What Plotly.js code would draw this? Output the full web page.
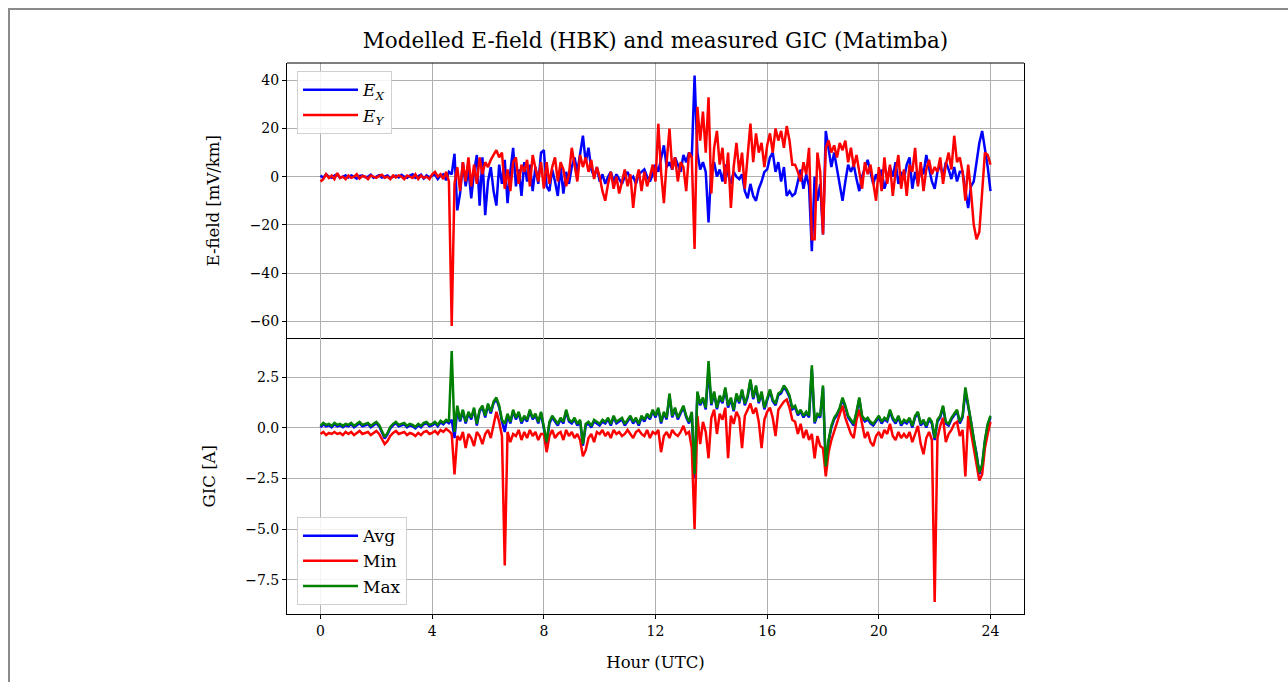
<!DOCTYPE html>
<html>
<head>
<meta charset="utf-8">
<script src="https://cdn.plot.ly/plotly-3.0.1.min.js"></script>
<style>
  html, body { margin: 0; padding: 0; background: #fff; }
  #wrap { position: relative; width: 1288px; height: 682px; }
  #chart { width: 1288px; height: 682px; }
  #frame { position: absolute; left: 8px; top: 8px; width: 1290px; height: 690px;
           border-top: 2px solid #8a8a8a; border-left: 2px solid #8a8a8a; pointer-events: none; }
</style>
</head>
<body>
<div id="wrap"><div id="chart"></div><div id="frame"></div></div>
<script>
// One row per hour, 10 samples per hour (every 6 minutes), last row = hour 24
const ex = [
  [0.5, -0.5, 1, 0, -0.5, 0.5, 1, -0.5, 0, 0.5],
  [-0.3, 0.5, 0, -0.8, 0.3, 0.5, -0.2, 0, 0.8, -0.5],
  [0, 0.6, -0.4, 0.2, 0.5, -0.6, 0, 0.4, -0.3, 0.8],
  [0, -0.5, 0.5, 1, -0.5, 0, 0.8, -0.8, 0.5, -0.3],
  [0.5, 1, -1, 0.5, 1, -1.5, 2, 1, 9.5, -14],
  [-7, 6, -4, 3, -9, 2, 9, -12, 8, -16],
  [-2, 4, -6, -12, 5, -3, 7, -11, 2, 12],
  [-4, 3, -8, 6, -2, 5, -6, 4, -3, 10],
  [11, -4, -6, 3, -2, -8, 4, -7, 2, -3],
  [4, 8, 2, 10, 17, 6, 12, 3, 0, 4],
  [-2, 1, -3, 0, 2, -2, 1, -1, -3, 0],
  [2, -1, 0, -3, 1, 2, 3, 0, -2, 1],
  [5, 2, 8, 13, 4, 6, 3, 8, 5, 2],
  [9, 6, 10, 8, 42, 10, 3, 6, 2, -19],
  [4, 6, 0, 3, -2, 5, 1, -3, 2, 0],
  [-1, 1, -6, -9, -3, -8, -10, -5, -2, 2],
  [3, 8, 10, 2, 6, -2, 4, -8, -6, -8],
  [-7, -2, 3, -5, 1, -4, -31, 0, -10, -3],
  [-24, 19, 12, 4, 10, 3, -4, -10, -2, 5],
  [2, 5, -1, -6, 0, 4, 7, 2, -3, 1],
  [-2, 3, -5, -1, 4, 0, 6, -3, 2, -1],
  [5, 8, -5, 2, -3, 4, 1, 9, 3, -2],
  [-5, 2, 5, 0, 6, 3, -1, 4, -2, 2],
  [2, -5, -13, -4, -2, 6, 14, 19, 12, 4],
  [-6]
];
const ey = [
  [-2, -1, 1, -0.5, 0.5, -1, 1.5, -0.5, 0, -1],
  [0.5, -0.5, 0, 1, -0.8, 0.3, 0, -1, 0.5, 0],
  [-0.5, 0.3, 0.8, -0.5, 0, -1, 0.5, -0.3, 0.5, 0],
  [-1, 0.5, 0, -0.5, 1, -1, 0.5, -0.5, 0, -1],
  [1, 2, 0, 1, -1, 2, -2, -62, -3, 4],
  [-6, 6, -2, 8, -4, 5, -3, 8, 1, 6],
  [4, 7, 9, 11, 8, 10, -5, 3, -6, 6],
  [8, -3, 5, 2, 7, -4, 9, 3, -2, 6],
  [-5, 6, -3, 4, 8, -2, 6, 3, -4, 1],
  [12, 5, -2, 9, 4, 8, 2, 7, -1, 4],
  [0, -6, -10, -3, 2, -5, 0, -7, -2, 3],
  [-4, 1, -13, -2, 3, -6, 2, -4, 0, 5],
  [-2, 22, 2, -11, 6, 20, 3, 8, -2, 6],
  [4, -6, 10, 8, -30, 29, 15, 27, 10, 33],
  [-7, 12, 19, 5, 12, -3, 10, -13, 4, 14],
  [2, 10, -5, 8, 22, 6, 18, 10, 14, 4],
  [13, 18, 10, 20, 15, 19, 12, 21, 15, 5],
  [5, 2, -2, 6, 1, 12, -26, -26, 10, 2],
  [-24, 12, 15, 10, 13, 8, 14, 11, 15, 6],
  [12, 4, 9, 2, -5, 6, 1, 5, -3, -10],
  [4, -6, 8, -3, 5, -8, 2, 9, -5, 3],
  [-8, 5, 2, 12, -4, 6, -6, 3, 7, 1],
  [4, 2, 8, -3, 5, 10, 3, 17, 6, 8],
  [2, -10, 5, -6, -20, -26, -23, -8, 10, 9],
  [5]
];
const gicAvg = [
  [0.03, 0.18, 0.08, 0.13, 0.03, 0.18, 0.08, 0.13, 0.03, 0.13],
  [0.08, 0.18, 0.03, 0.13, 0.23, 0.08, 0.13, 0.18, 0.03, 0.13],
  [0.23, 0.08, -0.22, -0.52, -0.32, -0.02, 0.13, 0.23, 0.08, 0.13],
  [0.18, 0.03, 0.13, 0.08, -0.02, 0.13, 0.03, 0.18, 0.23, 0.08],
  [0.13, 0.23, 0.08, 0.28, 0.18, 0.33, 0.23, 0.4, -0.5, 0.9],
  [0.32, 0.82, 0.22, 0.72, 0.42, 0.92, 0.12, 0.82, 1.02, 0.52],
  [1.12, 0.72, 1.22, 1.42, 1.02, 0.32, -0.2, 0.62, 0.22, 0.82],
  [0.42, 0.72, 0.22, 0.52, 0.32, 0.82, 0.42, 0.62, 0.22, 0.72],
  [0.02, -0.78, 0.22, 0.52, 0.32, 0.12, 0.42, 0.22, 0.82, 0.32],
  [0.22, 0.42, 0.12, 0.32, -0.88, 0.12, 0.22, 0.02, 0.32, 0.22],
  [0.12, 0.32, 0.22, 0.42, 0.12, 0.52, 0.22, 0.32, 0.42, 0.12],
  [0.32, 0.52, 0.22, 0.42, 0.12, 0.52, 0.32, 0.62, 0.42, 0.82],
  [0.52, 0.92, 0.22, 0.72, 0.42, 1.6, 0.52, 0.92, 0.42, 0.72],
  [1.02, 0.52, 0.22, 0.72, -2.5, 1.72, 1.12, 1.42, 0.92, 2.9],
  [1.12, 1.72, 0.92, 1.52, 1.22, 1.92, 1.0, 1.42, 0.82, 1.62],
  [1.22, 1.82, 1.12, 1.52, 2.32, 1.42, 2.02, 1.22, 1.72, 0.92],
  [1.42, 1.82, 1.32, 1.12, 1.62, 1.72, 2.02, 1.82, 1.52, 0.92],
  [1.02, 0.62, 0.82, 0.52, 0.72, 0.52, 2.9, 0.22, 0.62, 0.52],
  [2.0, -2.0, -0.68, 0.02, 0.42, 0.62, 0.92, 1.42, 1.02, 0.52],
  [0.32, 0.12, 0.72, 1.42, 0.52, 0.32, 0.42, 0.22, 0.12, 0.32],
  [0.52, 0.22, 0.42, 0.32, 0.82, 0.42, 0.22, 0.52, 0.12, 0.32],
  [0.22, 0.42, 0.02, 0.52, 0.72, 0.12, 0.32, 0.02, 0.42, 0.22],
  [-0.6, 0.32, 0.52, 1.02, 0.22, 0.12, 0.42, 0.62, 0.82, 0.22],
  [0.52, 1.8, 1.12, 0.32, -0.58, -1.28, -2.28, -1.88, -0.68, 0.12],
  [0.52]
];
const gicMin = [
  [-0.3, -0.2, -0.35, -0.25, -0.3, -0.2, -0.3, -0.25, -0.35, -0.2],
  [-0.3, -0.2, -0.35, -0.25, -0.15, -0.3, -0.25, -0.2, -0.35, -0.25],
  [-0.15, -0.3, -0.55, -0.8, -0.65, -0.4, -0.25, -0.15, -0.3, -0.25],
  [-0.2, -0.35, -0.25, -0.3, -0.4, -0.25, -0.35, -0.2, -0.15, -0.3],
  [-0.25, -0.15, -0.3, -0.1, -0.2, -0.05, -0.15, -0.3, -2.3, -0.4],
  [-0.6, -0.2, -1.0, -0.3, -0.5, -0.9, -0.2, -0.4, -0.8, -0.3],
  [-0.1, -0.5, 0.2, 0.8, 0.3, -0.4, -6.8, -0.2, -0.7, -0.3],
  [-0.4, -0.1, -0.6, -0.2, -0.5, -0.1, -0.4, -0.2, -0.6, -0.3],
  [-0.3, -1.2, -0.4, -0.1, -0.5, -0.3, -0.2, -0.6, -0.1, -0.4],
  [-0.2, -0.5, -0.3, -0.6, -1.4, -1.1, -0.5, -0.3, -0.7, -0.2],
  [-0.3, -0.1, -0.4, -0.2, -0.5, -0.1, -0.3, -0.2, -0.4, -0.3],
  [-0.1, -0.3, -0.5, -0.2, -0.1, -0.3, -0.4, -0.1, -0.5, -0.2],
  [-0.3, -0.1, -1.2, -0.4, -0.2, -0.5, -0.1, -0.3, -0.4, -0.2],
  [0.1, -0.3, -0.2, -1.0, -5.0, 0.6, -0.8, 0.3, -0.2, -1.5],
  [0.5, 0.9, -0.3, 0.7, 0.4, 1.0, -1.5, 0.6, 0.2, 0.8],
  [0.5, -1.0, 0.6, 0.9, 1.2, 0.7, 1.0, 0.3, -1.0, 0.4],
  [0.8, 1.0, 0.5, -0.4, 0.9, 1.1, 1.3, 1.4, 1.0, 0.4],
  [0.3, -0.3, 0.2, -0.5, -0.1, -0.6, -0.3, -1.5, -0.4, -0.9],
  [-1.0, -2.4, -1.2, -0.6, -0.2, 0.3, 0.6, 1.1, 0.5, 0.1],
  [-0.3, -0.5, 0.4, 0.9, 0.1, -0.5, -0.2, -0.7, -0.9, -0.4],
  [-0.2, -0.5, -0.1, -0.3, 0.2, -0.4, -0.6, -0.2, -0.5, -0.3],
  [-0.5, -0.2, -0.7, -0.3, 0.1, -0.8, -1.3, -0.5, -0.2, -0.6],
  [-8.6, -0.5, 0.1, 0.5, -0.7, -0.3, -0.1, 0.2, 0.3, -0.4],
  [-0.1, -2.4, 0.6, -0.2, -1.0, -1.7, -2.6, -2.3, -1.0, -0.3],
  [0.3]
];
const gicMax = [
  [0.1, 0.25, 0.15, 0.2, 0.1, 0.25, 0.15, 0.2, 0.1, 0.2],
  [0.15, 0.25, 0.1, 0.2, 0.3, 0.15, 0.2, 0.25, 0.1, 0.2],
  [0.3, 0.15, -0.15, -0.45, -0.25, 0.05, 0.2, 0.3, 0.15, 0.2],
  [0.25, 0.1, 0.2, 0.15, 0.05, 0.2, 0.1, 0.25, 0.3, 0.15],
  [0.2, 0.3, 0.15, 0.35, 0.25, 0.4, 0.3, 3.8, -0.2, 1.1],
  [0.4, 0.9, 0.3, 0.8, 0.5, 1.0, 0.2, 0.9, 1.1, 0.6],
  [1.2, 0.8, 1.3, 1.5, 1.1, 0.4, 0.2, 0.7, 0.3, 0.9],
  [0.5, 0.8, 0.3, 0.6, 0.4, 0.9, 0.5, 0.7, 0.3, 0.8],
  [0.1, -0.7, 0.3, 0.6, 0.4, 0.2, 0.5, 0.3, 0.9, 0.4],
  [0.3, 0.5, 0.2, 0.4, -0.8, 0.2, 0.3, 0.1, 0.4, 0.3],
  [0.2, 0.4, 0.3, 0.5, 0.2, 0.6, 0.3, 0.4, 0.5, 0.2],
  [0.4, 0.6, 0.3, 0.5, 0.2, 0.6, 0.4, 0.7, 0.5, 0.9],
  [0.6, 1.0, 0.3, 0.8, 0.5, 1.7, 0.6, 1.0, 0.5, 0.8],
  [1.1, 0.6, 0.3, 0.8, -2.3, 1.8, 1.2, 1.5, 1.0, 3.3],
  [1.2, 1.8, 1.0, 1.6, 1.3, 2.0, 1.1, 1.5, 0.9, 1.7],
  [1.3, 1.9, 1.2, 1.6, 2.4, 1.5, 2.1, 1.3, 1.8, 1.0],
  [1.5, 1.9, 1.4, 1.2, 1.7, 1.8, 2.1, 1.9, 1.6, 1.0],
  [1.1, 0.7, 0.9, 0.6, 0.8, 0.6, 3.1, 0.3, 0.7, 0.6],
  [2.1, -1.9, -0.6, 0.1, 0.5, 0.7, 1.0, 1.5, 1.1, 0.6],
  [0.4, 0.2, 0.8, 1.5, 0.6, 0.4, 0.5, 0.3, 0.2, 0.4],
  [0.6, 0.3, 0.5, 0.4, 0.9, 0.5, 0.3, 0.6, 0.2, 0.4],
  [0.3, 0.5, 0.1, 0.6, 0.8, 0.2, 0.4, 0.1, 0.5, 0.3],
  [-0.5, 0.4, 0.6, 1.1, 0.3, 0.2, 0.5, 0.7, 0.9, 0.3],
  [0.6, 2.0, 1.2, 0.4, -0.5, -1.2, -2.2, -1.8, -0.6, 0.2],
  [0.6]
];
const hourTicks = [0, 4, 8, 12, 16, 20, 24];
const efieldTicks = [-60, -40, -20, 0, 20, 40];
const gicTicks = [-7.5, -5.0, -2.5, 0.0, 2.5];
const titleText = 'Modelled E-field (HBK) and measured GIC (Matimba)';

const flat = a => a.flat();
const EX = flat(ex), EY = flat(ey), GA = flat(gicAvg), GMIN = flat(gicMin), GMAX = flat(gicMax);
const hours = EX.map((_, i) => i / 10);

const FONT = 'DejaVu Serif, Liberation Serif, serif';
const lw = 2.5;
const traces = [
  {x: hours, y: EX, xaxis: 'x2', yaxis: 'y2', mode: 'lines', name: '<i>E<sub>X</sub></i>',
   line: {color: '#0000ff', width: lw}, legend: 'legend'},
  {x: hours, y: EY, xaxis: 'x2', yaxis: 'y2', mode: 'lines', name: '<i>E<sub>Y</sub></i>',
   line: {color: '#ff0000', width: lw}, legend: 'legend'},
  {x: hours, y: GA, xaxis: 'x', yaxis: 'y', mode: 'lines', name: 'Avg',
   line: {color: '#0000ff', width: lw}, legend: 'legend2'},
  {x: hours, y: GMIN, xaxis: 'x', yaxis: 'y', mode: 'lines', name: 'Min',
   line: {color: '#ff0000', width: lw}, legend: 'legend2'},
  {x: hours, y: GMAX, xaxis: 'x', yaxis: 'y', mode: 'lines', name: 'Max',
   line: {color: '#008000', width: lw}, legend: 'legend2'}
];

const axCommon = {
  showline: true, mirror: true, linecolor: '#000', linewidth: 1,
  ticks: 'outside', ticklen: 4, tickwidth: 1, tickcolor: '#000',
  showgrid: true, gridcolor: '#b0b0b0', gridwidth: 1, zeroline: false,
  tickfont: {family: FONT, size: 14, color: '#000'}
};
const labelFont = {family: FONT, size: 16.5, color: '#000'};
const legendFont = {family: FONT, size: 17, color: '#000'};

const layout = {
  width: 1288, height: 682,
  paper_bgcolor: '#fff', plot_bgcolor: '#fff',
  margin: {l: 287, r: 264, t: 63, b: 68},
  showlegend: true,
  title: {text: titleText, x: 0.5, xanchor: 'center', y: 0.94, yanchor: 'middle',
          xref: 'paper', font: {family: FONT, size: 21.5, color: '#000'}},
  xaxis: Object.assign({}, axCommon, {domain: [0, 1], anchor: 'y', range: [-1.2, 25.2],
          tickvals: hourTicks, ticktext: hourTicks.map(String),
          title: {text: 'Hour (UTC)', font: labelFont, standoff: 18}}),
  xaxis2: Object.assign({}, axCommon, {domain: [0, 1], anchor: 'y2', range: [-1.2, 25.2],
          matches: 'x', tickvals: hourTicks, showticklabels: false, showline: false, ticks: ''}),
  yaxis: Object.assign({}, axCommon, {domain: [0, 0.5], anchor: 'x', range: [-9.2, 4.42],
          tickvals: gicTicks, tickformat: '.1f',
          title: {text: 'GIC [A]', font: labelFont, standoff: 25}}),
  yaxis2: Object.assign({}, axCommon, {domain: [0.5, 1], anchor: 'x2', range: [-67.2, 47.2],
          tickvals: efieldTicks,
          title: {text: 'E-field [mV/km]', font: labelFont, standoff: 25}}),
  shapes: [
    {type: 'line', xref: 'paper', yref: 'paper', x0: 0, x1: 1, y0: 1, y1: 1,
     line: {color: '#000', width: 1}}
  ],
  legend: {x: 0.0136, y: 0.985, xanchor: 'left', yanchor: 'top', itemwidth: 55,
           bgcolor: 'rgba(255,255,255,0.85)', bordercolor: '#d0d0d0', borderwidth: 1,
           font: legendFont, tracegroupgap: 0},
  legend2: {x: 0.0136, y: 0.016, xanchor: 'left', yanchor: 'bottom', itemwidth: 55,
            bgcolor: 'rgba(255,255,255,0.85)', bordercolor: '#d0d0d0', borderwidth: 1,
            font: legendFont, tracegroupgap: 0}
};

Plotly.newPlot('chart', traces, layout, {displayModeBar: false, staticPlot: true});
</script>
</body>
</html>
